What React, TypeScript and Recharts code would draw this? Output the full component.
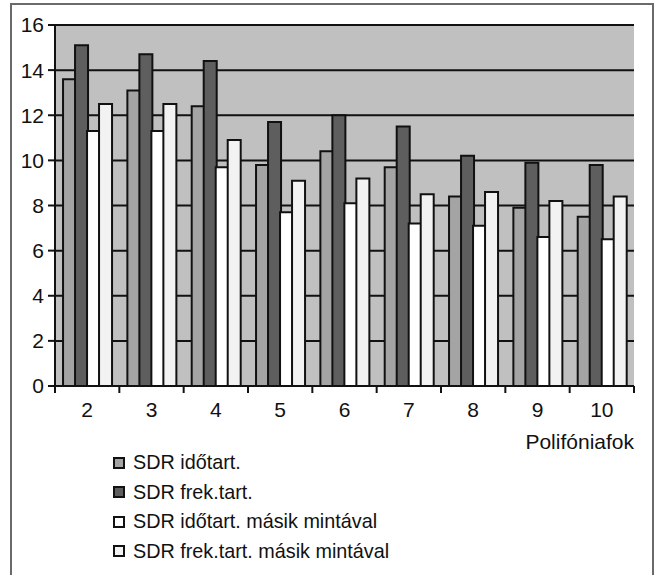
import React from 'react';
import { BarChart, Bar, XAxis, YAxis, CartesianGrid, Legend, Label } from 'recharts';

// ─── Data ─────────────────────────────────────────────────────────────────────

const categories = ['2', '3', '4', '5', '6', '7', '8', '9', '10'];

const sdrIdo = [13.6, 13.1, 12.4, 9.8, 10.4, 9.7, 8.4, 7.9, 7.5];
const sdrFrek = [15.1, 14.7, 14.4, 11.7, 12.0, 11.5, 10.2, 9.9, 9.8];
const sdrIdoMasik = [11.3, 11.3, 9.7, 7.7, 8.1, 7.2, 7.1, 6.6, 6.5];
const sdrFrekMasik = [12.5, 12.5, 10.9, 9.1, 9.2, 8.5, 8.6, 8.2, 8.4];

const yTicks = [0, 2, 4, 6, 8, 10, 12, 14, 16];

const SERIES = [
  { key: 'ido', label: 'SDR időtart.', color: '#a4a4a4' },
  { key: 'frek', label: 'SDR frek.tart.', color: '#5e5e5e' },
  { key: 'idoMasik', label: 'SDR időtart. másik mintával', color: '#ffffff' },
  { key: 'frekMasik', label: 'SDR frek.tart. másik mintával', color: '#f2f2f2' },
];

const chartData = categories.map((c, i) => ({
  cat: c,
  ido: sdrIdo[i],
  frek: sdrFrek[i],
  idoMasik: sdrIdoMasik[i],
  frekMasik: sdrFrekMasik[i],
}));

const FONT = '"Liberation Sans", Arial, sans-serif';
const INK = '#111';

// ─── X tick: label at centre, tick marks at category boundaries ───────────────

function BoundaryTick(props: any) {
  const { x, y, payload, index, visibleTicksCount } = props;
  const half = payload.offset ?? 0;
  const isLast = index === visibleTicksCount - 1;
  return (
    <g>
      <line x1={x - half} x2={x - half} y1={y - 7} y2={y} stroke={INK} strokeWidth={2} />
      {isLast && (
        <line x1={x + half} x2={x + half} y1={y - 7} y2={y} stroke={INK} strokeWidth={2} />
      )}
      <text x={x} y={y + 24} textAnchor="middle" fill={INK} fontSize={21} fontFamily={FONT}>
        {payload.value}
      </text>
    </g>
  );
}

// ─── Legend ───────────────────────────────────────────────────────────────────

function StackedLegend() {
  return (
    <div style={{ fontFamily: FONT, fontSize: 19.8, color: INK, lineHeight: '29.5px' }}>
      {SERIES.map((s) => (
        <div key={s.key} style={{ display: 'flex', alignItems: 'center' }}>
          <span
            style={{
              display: 'inline-block',
              width: 8,
              height: 8,
              background: s.color,
              border: `2px solid ${INK}`,
              marginRight: 8,
            }}
          />
          <span>{s.label}</span>
        </div>
      ))}
    </div>
  );
}

// ─── App ──────────────────────────────────────────────────────────────────────

export default function App() {
  return (
    <div style={{ position: 'absolute', left: 0, top: 0, width: 656, height: 575, overflow: 'hidden', background: '#fff' }}>
      <div
        style={{
          position: 'absolute',
          left: 10,
          top: 3,
          width: 640,
          height: 620,
          border: '2px solid #6a6a6a',
        }}
      />
      <div style={{ position: 'absolute', left: 0, top: 0 }}>
        <BarChart
          width={656}
          height={575}
          data={chartData}
          margin={{ top: 25, right: 22, bottom: 0, left: 0 }}
          barCategoryGap="12.5%"
          barGap={-1}
        >
          <CartesianGrid
            vertical={false}
            fill="#c0c0c0"
            fillOpacity={1}
            stroke={INK}
            strokeWidth={2}
          />
          <XAxis
            dataKey="cat"
            height={189}
            axisLine={{ stroke: INK, strokeWidth: 2 }}
            tickLine={false}
            tickSize={7}
            tickMargin={0}
            tick={<BoundaryTick />}
            interval={0}
          >
            <Label
              content={({ viewBox }: any) => (
                <text
                  x={viewBox.x + viewBox.width}
                  y={viewBox.y + 63}
                  textAnchor="end"
                  fill={INK}
                  fontSize={21}
                  fontFamily={FONT}
                >
                  Polifóniafok
                </text>
              )}
            />
          </XAxis>
          <YAxis
            width={55}
            domain={[0, 16]}
            ticks={yTicks}
            interval={0}
            axisLine={{ stroke: INK, strokeWidth: 2 }}
            tickLine={{ stroke: INK, strokeWidth: 2 }}
            tickSize={7}
            tickMargin={4}
            tick={{ fill: INK, fontSize: 21, fontFamily: FONT }}
          />
          <Legend
            layout="vertical"
            align="center"
            verticalAlign="middle"
            content={<StackedLegend />}
            wrapperStyle={{ left: 113, top: 448, width: 420 }}
          />
          {SERIES.map((s) => (
            <Bar
              key={s.key}
              dataKey={s.key}
              name={s.label}
              fill={s.color}
              stroke={INK}
              strokeWidth={2}
              isAnimationActive={false}
            />
          ))}
        </BarChart>
      </div>
    </div>
  );
}
